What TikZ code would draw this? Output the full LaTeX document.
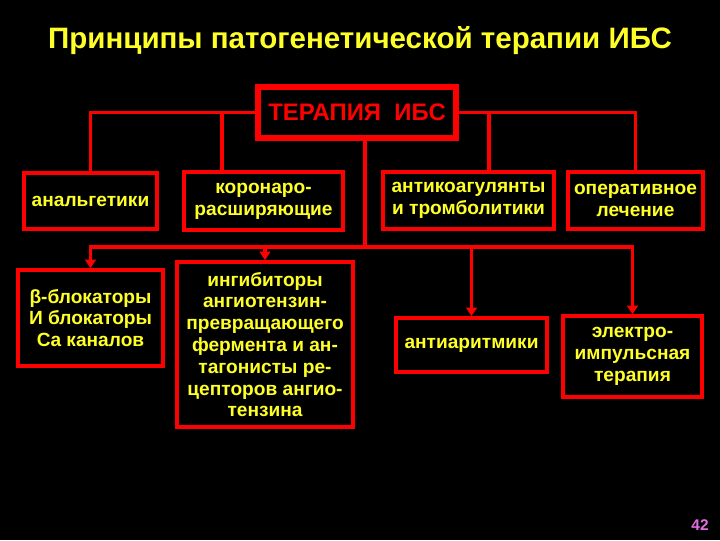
\documentclass[tikz,border=0pt]{standalone}
\usepackage{fontspec}
\setmainfont{Liberation Sans}
\usepackage{xcolor}
\usetikzlibrary{arrows.meta, positioning}
\definecolor{slidered}{RGB}{255, 0, 0}
\definecolor{slideyel}{RGB}{255, 255, 40}
\definecolor{pagepink}{RGB}{225, 110, 225}
\tikzset{
    box/.style   ={draw=slidered, line width=2.6pt, fill=black, text=slideyel,
                   align=center, inner sep=2pt,
                   font=\fontsize{13.6}{15.5}\selectfont\bfseries},
    sz/.style 2 args={minimum width=#1*0.025cm, minimum height=#2*0.025cm},
    headbox/.style={box, line width=3.6pt, text=slidered,
                   font=\fontsize{17}{19}\selectfont\bfseries},
    line/.style  ={draw=slidered, line width=2.2pt},
    arr/.style   ={line, -{Triangle[length=6pt, width=7.5pt]}}
}

\begin{document}
\begin{tikzpicture}[x=0.025cm, y=-0.025cm]
  \fill[black] (0,0) rectangle (720,540);
  \useasboundingbox (0,0) rectangle (720,540);

  \node[text=slideyel, font=\fontsize{21}{24}\selectfont\bfseries] (title) at (360,41)
       {Принципы патогенетической терапии ИБС};

  \node[headbox, sz={198}{51}] (ter) at (357,112.5) {ТЕРАПИЯ\ \ ИБС};

  % upper row
  \node[box, sz={133}{56}] (anal)  at (90.5,201)   {анальгетики};
  \node[box, sz={159}{58}] (koron) at (263.5,201)  {коронаро-\\расширяющие};
  \node[box, sz={171}{57}] (akoag) at (468.5,200.5) {антикоагулянты\\и тромболитики};
  \node[box, sz={135}{57}] (oper)  at (635.5,200.5) {оперативное\\лечение};

  % lower row
  \node[box, sz={145}{96}]  (beta)   at (90.5,318) {β-блокаторы\\И блокаторы\\Ca каналов};
  \node[box, sz={176}{165}] (ingib)  at (265,344.5)
       {ингибиторы\\ангиотензин-\\превращающего\\фермента и ан-\\тагонисты ре-\\цепторов ангио-\\тензина};
  \node[box, sz={151}{54}]  (aritm)  at (471.5,345) {антиаритмики};
  \node[box, sz={139}{81}]  (elektr) at (632.5,356.5) {электро-\\импульсная\\терапия};

  \coordinate (kjoin) at (222,112.5);
  \coordinate (ajoin) at (489,112.5);
  \coordinate (bus)   at (365,247);

  % top links
  \draw[line] (ter.west) -| (anal.north);
  \draw[line] (kjoin) -- (kjoin |- koron.north);
  \draw[line] (ter.east) -| (oper.north);
  \draw[line] (ajoin) -- (ajoin |- akoag.north);

  % bottom links
  \draw[line] (bus |- ter.south) -- (bus);
  \draw[arr] (bus) -| (beta.north);
  \draw[arr] (bus) -| (ingib.north);
  \draw[arr] (bus) -| (aritm.north);
  \draw[arr] (bus) -| (elektr.north);

  \node[text=pagepink, font=\fontsize{11}{12}\selectfont\bfseries] (page) at (700,525) {42};
\end{tikzpicture}
\end{document}
